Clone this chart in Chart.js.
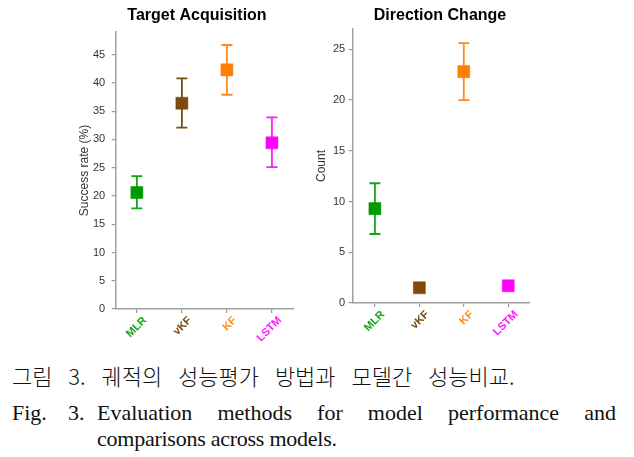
<!DOCTYPE html>
<html>
<head>
<meta charset="utf-8">
<script src="https://cdn.jsdelivr.net/npm/chart.js@4.4.0/dist/chart.umd.min.js"></script>
<style>
  html, body { margin: 0; padding: 0; background: #fff; }
  body { width: 634px; height: 457px; position: relative; overflow: hidden; }
  canvas { position: absolute; top: 0; }
  #c1 { left: 60px; }
  #c2 { left: 310px; }
  .ko {
    position: absolute; left: 12px; top: 362px;
    font-family: "Noto Sans CJK KR", sans-serif; font-size: 22px; font-weight: 300;
    word-spacing: 11px; color: #111; white-space: nowrap; line-height: 26px;
  }
  .en {
    position: absolute;
    font-family: "Liberation Serif", "Times New Roman", serif; font-size: 22px; color: #111;
    line-height: 30px; white-space: nowrap;
  }
  #fig { left: 12px; top: 398px; }
  #num { left: 68px; top: 398px; }
  #line1 { left: 97px; top: 398px; width: 519px; text-align: justify; text-align-last: justify; }
  #line2 { left: 97px; top: 424px; letter-spacing: -0.25px; }
</style>
</head>
<body>
<canvas id="c1" width="274" height="350"></canvas>
<canvas id="c2" width="260" height="350"></canvas>
<div class="ko">그림 3. 궤적의 성능평가 방법과 모델간 성능비교.</div>
<div class="en" id="fig">Fig.</div>
<div class="en" id="num">3.</div>
<div class="en" id="line1">Evaluation methods for model performance and</div>
<div class="en" id="line2">comparisons across models.</div>
<script>
const models = ['MLR', 'vKF', 'KF', 'LSTM'];
const markerColors = ['#009a00', '#7b4a0c', '#ff8000', '#ff00ff'];
const labelColors = ['#1aa31a', '#7b4a0c', '#ff8c1a', '#ff1aff'];

// Target acquisition success rate (%), mean and error bar ends
const successRate = [20.6, 36.4, 42.3, 29.4];
const successLow = [17.8, 32.1, 37.9, 25.1];
const successHigh = [23.5, 40.8, 46.7, 33.9];

// Direction change count
const dirCount = [9.3, 1.5, 22.8, 1.7];
const dirLow = [6.8, null, 20.0, null];
const dirHigh = [11.8, null, 25.6, null];

const FONT = "'Liberation Sans', Arial, sans-serif";

// vertical error bars with caps, drawn under the markers
const errorBars = {
  id: 'errorBars',
  beforeDatasetsDraw(chart, args, opts) {
    const {ctx, scales: {x, y}} = chart;
    ctx.save();
    ctx.lineWidth = 1.8;
    for (let i = 0; i < models.length; i++) {
      if (opts.low[i] == null) continue;
      const px = x.getPixelForValue(i);
      const lo = y.getPixelForValue(opts.low[i]);
      const hi = y.getPixelForValue(opts.high[i]);
      ctx.strokeStyle = labelColors[i];
      ctx.beginPath();
      ctx.moveTo(px, lo); ctx.lineTo(px, hi);
      ctx.moveTo(px - 5.5, lo); ctx.lineTo(px + 5.5, lo);
      ctx.moveTo(px - 5.5, hi); ctx.lineTo(px + 5.5, hi);
      ctx.stroke();
    }
    ctx.restore();
  }
};

// nudge the title sideways so it sits where the figure has it
const titleShift = {
  id: 'titleShift',
  afterLayout(chart, args, opts) {
    const tb = chart.titleBlock;
    if (tb) { tb.left += opts.dx; tb.right += opts.dx; }
  }
};

function makeChart(id, cfg) {
  return new Chart(document.getElementById(id), {
    type: 'scatter',
    data: {
      datasets: [{
        data: cfg.values.map((v, i) => ({x: i, y: v})),
        pointStyle: 'rect',
        pointRadius: 8.5,
        pointHoverRadius: 8.5,
        pointBackgroundColor: markerColors,
        pointBorderColor: markerColors,
        pointBorderWidth: 0.5
      }]
    },
    options: {
      responsive: false,
      animation: false,
      events: [],
      layout: { padding: { left: 0, right: 40, top: 0, bottom: 0 } },
      plugins: {
        legend: { display: false },
        tooltip: { enabled: false },
        title: {
          display: true,
          text: cfg.title,
          color: '#000',
          font: { family: FONT, size: 16, weight: 'bold' },
          padding: { top: 6.4, bottom: cfg.titleGap }
        },
        errorBars: { low: cfg.low, high: cfg.high },
        titleShift: { dx: 20 }
      },
      scales: {
        x: {
          type: 'linear',
          min: cfg.xMin,
          max: 3.49,
          afterFit: (s) => { s.height = cfg.xHeight; },
          grid: { display: true, drawOnChartArea: false, drawTicks: true, tickLength: 4, color: '#999', lineWidth: 1.2 },
          border: { display: true, color: '#a0a0a0', width: 1.5 },
          ticks: {
            stepSize: 1,
            includeBounds: false,
            minRotation: 45,
            maxRotation: 45,
            padding: 1,
            labelOffset: 8,
            font: { family: FONT, size: 11, weight: 'bold' },
            color: (c) => labelColors[c.tick.value] || '#000',
            callback: (v) => models[v]
          }
        },
        y: {
          min: 0,
          max: cfg.yMax,
          afterFit: (s) => { s.width = cfg.yWidth; },
          grid: { display: true, drawOnChartArea: false, drawTicks: true, tickLength: 4, color: '#999', lineWidth: 1.2 },
          border: { display: true, color: '#a0a0a0', width: 1.5 },
          title: {
            display: true,
            text: cfg.yTitle,
            color: '#333',
            font: { family: FONT, size: 12 },
            padding: { top: cfg.yTitlePad, bottom: 0 }
          },
          ticks: {
            stepSize: 5,
            includeBounds: false,
            padding: cfg.yTickPad,
            color: '#333',
            font: { family: FONT, size: 11 }
          }
        }
      }
    },
    plugins: [errorBars, titleShift]
  });
}

makeChart('c1', {
  title: 'Target Acquisition',
  values: successRate, low: successLow, high: successHigh,
  yTitle: 'Success rate (%)', yMax: 49,
  xMin: -0.47, yWidth: 55.7, xHeight: 41,
  titleGap: 6.4, yTitlePad: 17.8, yTickPad: 6.5
});

makeChart('c2', {
  title: 'Direction Change',
  values: dirCount, low: dirLow, high: dirHigh,
  yTitle: 'Count', yMax: 27,
  xMin: -0.5, yWidth: 42.7, xHeight: 47,
  titleGap: 3.4, yTitlePad: 4.8, yTickPad: 3.5
});
</script>
</body>
</html>
